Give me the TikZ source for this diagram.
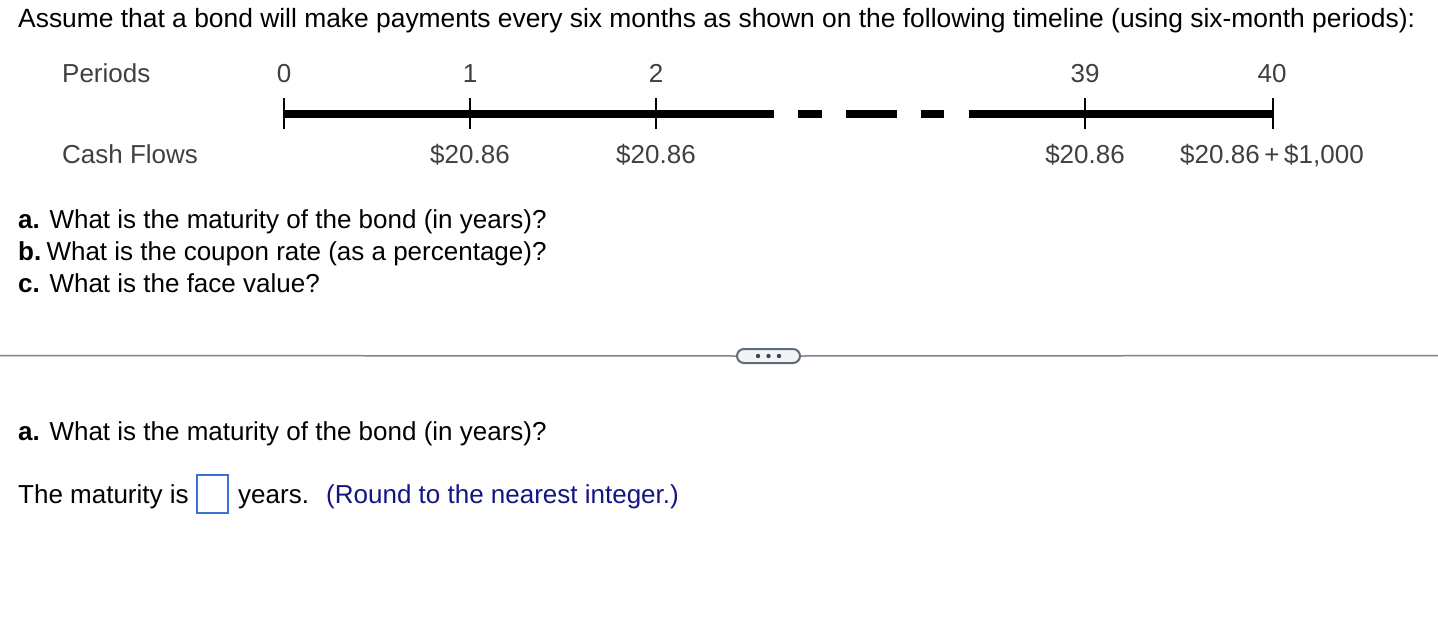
\documentclass[tikz,border=0pt]{standalone}
\usepackage{fontspec}
\setmainfont{Liberation Sans}
\definecolor{lblgray}{HTML}{404040}
\definecolor{sepgray}{HTML}{7A8494}
\definecolor{btnborder}{HTML}{5F6B7A}
\definecolor{btnfill}{HTML}{F2F3F6}
\definecolor{dotgray}{HTML}{3F4650}
\definecolor{boxblue}{HTML}{3A72D0}
\definecolor{hintblue}{HTML}{141482}
\begin{document}
\begin{tikzpicture}[x=1pt,y=-1pt,
  txt/.style={inner sep=0pt, font=\fontsize{26}{30}\selectfont},
  lbl/.style={txt, text=lblgray},
  bar/.style={line width=8pt, line cap=butt},
  tick/.style={line width=2pt}]
\useasboundingbox (0,0) rectangle (1438,642);
\fill[white] (0,0) rectangle (1438,642);

% header
\node[txt, font=\fontsize{26.4}{30}\selectfont, anchor=base west] (head) at (18,28) {Assume that a bond will make payments every six months as shown on the following timeline (using six-month periods):};

% timeline labels
\node[lbl, anchor=base west] (periods) at (62,83) {Periods};
\node[lbl, anchor=base west] (cash) at (62,163) {Cash Flows};

\coordinate (t0) at (284,114);
\coordinate (t1) at (470,114);
\coordinate (t2) at (656,114);
\coordinate (t39) at (1085,114);
\coordinate (t40) at (1273,114);
\coordinate (s1e) at (774,114);
\coordinate (d1s) at (798,114);
\coordinate (d1e) at (822,114);
\coordinate (d2s) at (846,114);
\coordinate (d2e) at (897,114);
\coordinate (d3s) at (921,114);
\coordinate (d3e) at (944,114);
\coordinate (s2s) at (969,114);

\draw[bar] (t0) -- (s1e);
\draw[bar] (d1s) -- (d1e);
\draw[bar] (d2s) -- (d2e);
\draw[bar] (d3s) -- (d3e);
\draw[bar] (s2s) -- (t40);

\foreach \t in {t0,t1,t2,t39,t40}{
  \draw[tick] ([yshift=16pt]\t) -- ([yshift=-15pt]\t);
}

\node[lbl, anchor=base] (p0) at (284,83) {0};
\node[lbl, anchor=base] (p1) at (470,83) {1};
\node[lbl, anchor=base] (p2) at (656,83) {2};
\node[lbl, anchor=base] (p39) at (1085,83) {39};
\node[lbl, anchor=base] (p40) at (1272,83) {40};

\node[lbl, anchor=base] (c1) at (470,163) {\$20.86};
\node[lbl, anchor=base] (c2) at (656,163) {\$20.86};
\node[lbl, anchor=base] (c39) at (1085,163) {\$20.86};
\node[lbl, anchor=base] (c40) at (1272,163) {\$20.86\hspace{0.18em}+\hspace{0.18em}\$1,000};

% questions
\node[txt, anchor=base west] (qa) at (18,228) {\textbf{a.} What is the maturity of the bond (in years)?};
\node[txt, anchor=base west] (qb) at (18,260) {\textbf{b.}\hspace{0.2em}What is the coupon rate (as a percentage)?};
\node[txt, anchor=base west] (qc) at (18,292) {\textbf{c.} What is the face value?};

% separator
\node[draw=btnborder, fill=btnfill, line width=2pt, rounded corners=7pt,
  minimum width=63pt, minimum height=14pt, inner sep=0pt] (btn) at (768.5,356) {};
\fill[dotgray] (758,356) circle (2.2pt) (768.5,356) circle (2.2pt) (779,356) circle (2.2pt);
\coordinate (sepl) at (0,355.5);
\coordinate (sepr) at (1438,355.5);
\draw[sepgray, line width=1.5pt] (sepl) -- (btn.west);
\draw[sepgray, line width=1.5pt] (btn.east) -- (sepr);

% answer part
\node[txt, anchor=base west] (qa2) at (18,440) {\textbf{a.} What is the maturity of the bond (in years)?};
\node[txt, anchor=base west] (mat) at (18,503) {The maturity is};
\node[draw=boxblue, line width=2pt, minimum width=31pt, minimum height=38pt, inner sep=0pt] (box) at (212.5,493.5) {};
\node[txt, anchor=base west] (yrs) at (238,503) {years.};
\node[txt, anchor=base west, text=hintblue] (hint) at (326,503) {(Round to the nearest integer.)};
\end{tikzpicture}
\end{document}
